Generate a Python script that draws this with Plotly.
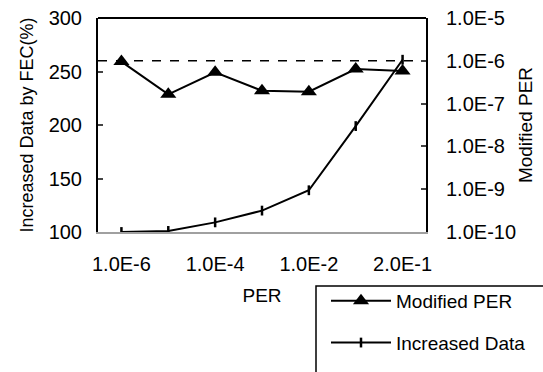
import plotly.graph_objects as go

categories = ["1.0E-6", "1.0E-5", "1.0E-4", "1.0E-3", "1.0E-2", "1.0E-1", "2.0E-1"]
x_tick_labels = ["1.0E-6", "1.0E-4", "1.0E-2", "2.0E-1"]
increased_data = [100, 101, 109, 120, 139, 199, 261]
modified_per = [9.6e-7, 1.65e-7, 5.4e-7, 2.0e-7, 1.9e-7, 6.4e-7, 5.8e-7]
target_per = [1e-6, 1e-6]
left_ticks = [100, 150, 200, 250, 300]
right_tickvals = [1e-10, 1e-9, 1e-8, 1e-7, 1e-6, 1e-5]
right_ticktext = ["1.0E-10", "1.0E-9", "1.0E-8", "1.0E-7", "1.0E-6", "1.0E-5"]

FONT = "Liberation Sans, Arial, sans-serif"
FS = 19
TFS = 20

L, R, T, B = 98, 117, 18, 140
PW, PH = 543 - L - R, 372 - T - B


def px_x(p):
    return (p - L) / PW


def px_y(p):
    return (372 - B - p) / PH


fig = go.Figure()

fig.add_trace(go.Scatter(
    x=categories, y=modified_per, yaxis="y2", mode="lines+markers", name="Modified PER",
    legendgroup="a",
    line=dict(color="black", width=2),
    marker=dict(symbol="triangle-up", size=14, color="black")))

fig.add_trace(go.Scatter(
    x=categories, y=increased_data, mode="lines+markers", name="Increased Data",
    legendgroup="b",
    line=dict(color="black", width=2),
    marker=dict(symbol="line-ns", size=7, line=dict(color="black", width=2.5))))

fig.add_trace(go.Scatter(
    x=[0, 1], y=target_per, xaxis="x2", yaxis="y2", mode="lines", name="Target PER",
    showlegend=False,
    line=dict(color="black", width=1.5, dash="dash"), hoverinfo="skip"))

fig.update_layout(
    width=543, height=372,
    margin=dict(l=L, r=R, t=T, b=B, autoexpand=False),
    paper_bgcolor="white", plot_bgcolor="white",
    font=dict(family=FONT, size=FS, color="black"),
    showlegend=True,
    legend=dict(
        x=px_x(326), xanchor="left",
        y=px_y(282), yanchor="top",
        bgcolor="rgba(0,0,0,0)", borderwidth=0,
        font=dict(size=FS), traceorder="grouped", tracegroupgap=14,
        itemwidth=60),
    xaxis=dict(
        type="category", categoryorder="array", categoryarray=categories,
        range=[-0.5, 6.5],
        tickvals=[categories[0], categories[2], categories[4], categories[6]],
        ticktext=x_tick_labels, ticks="", ticklabelstandoff=13,
        tickfont=dict(size=TFS),
        showline=True, linecolor="#a0a0a0", linewidth=2, mirror=False,
        showgrid=False, zeroline=False,
        title=dict(text="PER", standoff=15, font=dict(size=FS))),
    xaxis2=dict(range=[0, 1], overlaying="x", visible=False),
    yaxis=dict(
        range=[100, 300], tickvals=left_ticks, ticks="inside", ticklen=5,
        tickwidth=2, showline=True, linecolor="black", linewidth=2,
        showgrid=False, zeroline=False, ticklabelstandoff=10,
        tickfont=dict(size=TFS),
        title=dict(text="Increased Data by FEC(%)", standoff=10, font=dict(size=18))),
    yaxis2=dict(
        type="log", range=[-10, -5], overlaying="y", side="right",
        tickvals=right_tickvals, ticktext=right_ticktext, ticks="inside",
        ticklen=5, tickwidth=2, showline=True, linecolor="black", linewidth=2,
        showgrid=False, zeroline=False, ticklabelstandoff=14,
        tickfont=dict(size=TFS),
        title=dict(text="Modified PER", standoff=4, font=dict(size=19))),
    shapes=[
        dict(type="line", xref="paper", yref="paper", x0=0, x1=1, y0=1, y1=1,
             line=dict(color="black", width=2)),
        dict(type="rect", xref="paper", yref="paper",
             x0=px_x(316), x1=px_x(600), y0=px_y(286), y1=px_y(420),
             line=dict(color="black", width=1.5), fillcolor="white", layer="below"),
    ],
)

fig.write_html("out.html", config={"displayModeBar": False},
               post_script="document.body.style.margin='0';")
